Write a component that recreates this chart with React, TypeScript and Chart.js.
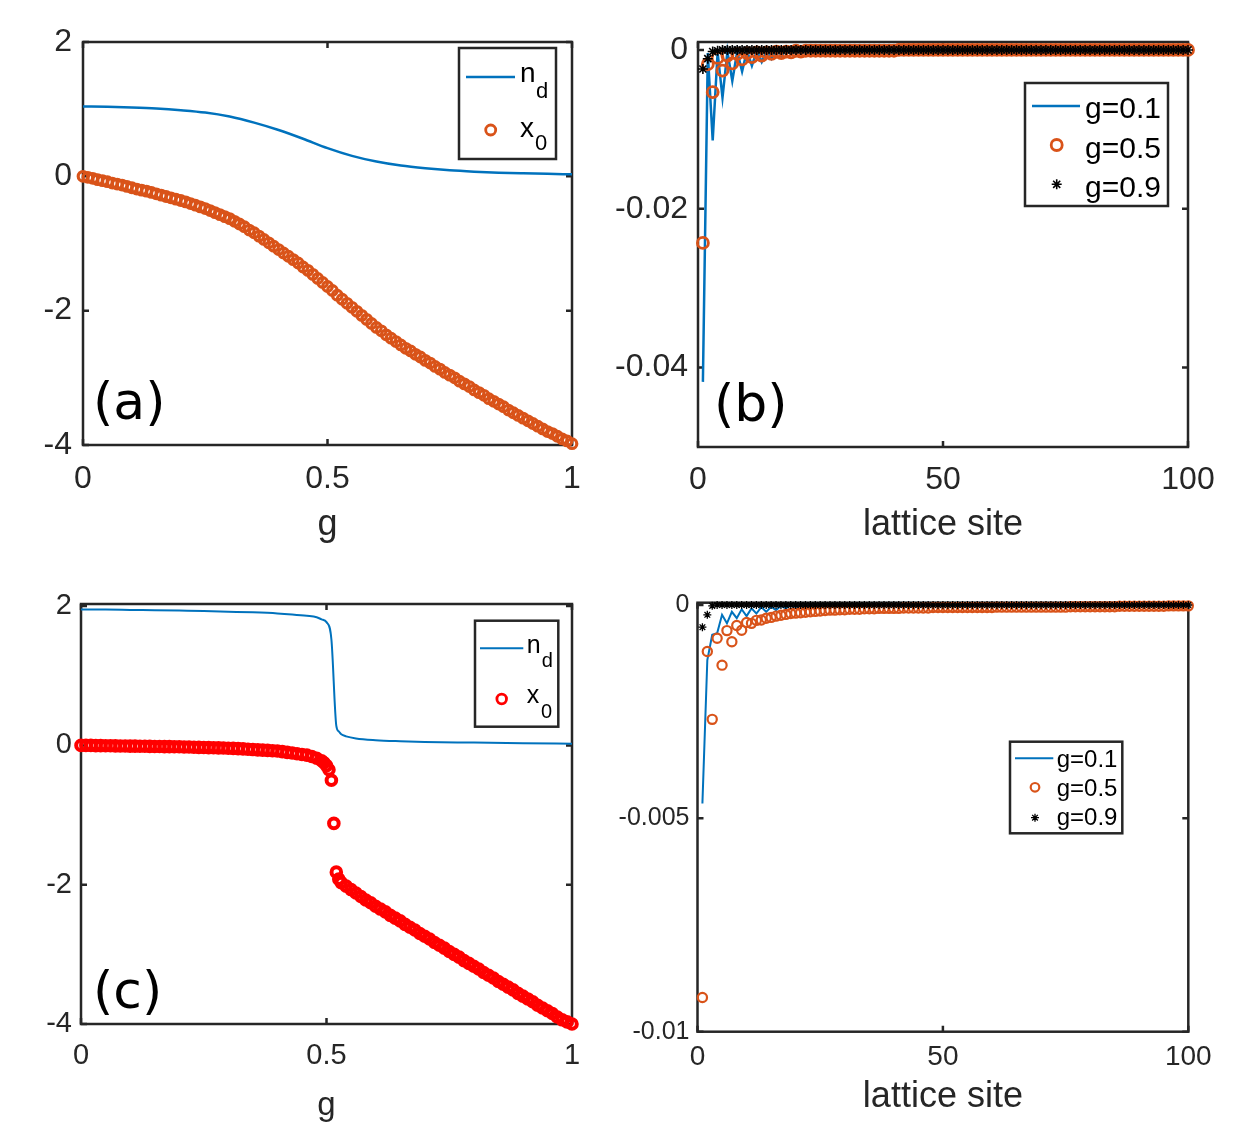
import React, { useEffect, useRef } from 'react';
import { Chart, registerables } from 'chart.js';

Chart.register(...registerables);

const FONT = "'Liberation Sans', Arial, Helvetica, sans-serif";
const LABEL_FONT = "'DejaVu Sans', 'Noto Sans', sans-serif";
const AXIS_COLOR = '#262626';
const BLUE = '#0072BD';
const ORANGE = '#D95319';
const RED = '#FF0000';
const BLACK = '#000000';

// ---------------- data: panel (a) ----------------
const gGridA = Array.from({ length: 101 }, (_, i) => i / 100);
const ndA_g = [0, 0.05, 0.1, 0.15, 0.2, 0.25, 0.3, 0.35, 0.4, 0.45, 0.5, 0.55, 0.6, 0.65, 0.7, 0.75, 0.8, 0.85, 0.9, 0.95, 1.0];
const ndA = [1.04, 1.035, 1.025, 1.01, 0.985, 0.95, 0.89, 0.8, 0.69, 0.56, 0.42, 0.305, 0.22, 0.16, 0.12, 0.09, 0.07, 0.055, 0.045, 0.037, 0.03];
const x0A = [
  0.0, -0.015, -0.03, -0.05, -0.065, -0.08, -0.1, -0.115, -0.13, -0.15,
  -0.17, -0.19, -0.205, -0.22, -0.24, -0.26, -0.28, -0.3, -0.32, -0.34,
  -0.36, -0.38, -0.405, -0.43, -0.455, -0.48, -0.51, -0.54, -0.57, -0.6,
  -0.63, -0.67, -0.71, -0.75, -0.8, -0.84, -0.89, -0.94, -0.99, -1.04,
  -1.09, -1.14, -1.19, -1.24, -1.29, -1.35, -1.4, -1.46, -1.52, -1.58,
  -1.64, -1.7, -1.77, -1.83, -1.89, -1.95, -2.01, -2.07, -2.13, -2.19,
  -2.25, -2.3, -2.36, -2.41, -2.46, -2.51, -2.56, -2.6, -2.65, -2.69,
  -2.74, -2.78, -2.83, -2.87, -2.92, -2.96, -3.0, -3.05, -3.09, -3.13,
  -3.18, -3.22, -3.26, -3.31, -3.35, -3.39, -3.43, -3.48, -3.52, -3.56,
  -3.6, -3.64, -3.68, -3.72, -3.76, -3.8, -3.83, -3.87, -3.91, -3.94,
  -3.98,
];

// ---------------- data: panel (c) ----------------
const ndC_g = [0, 0.05, 0.1, 0.15, 0.2, 0.25, 0.3, 0.35, 0.4, 0.43, 0.46, 0.48, 0.49, 0.5, 0.51, 0.52, 0.525, 0.53, 0.54, 0.56, 0.6, 0.65, 0.7, 0.8, 0.9, 1.0];
const ndC = [1.95, 1.95, 1.945, 1.94, 1.935, 1.93, 1.92, 1.91, 1.895, 1.88, 1.86, 1.84, 1.81, 1.77, 1.52, 0.28, 0.2, 0.16, 0.13, 0.1, 0.075, 0.06, 0.05, 0.04, 0.03, 0.025];
const x0C_g = [
  0.0, 0.01, 0.02, 0.03, 0.04, 0.05, 0.06, 0.07, 0.08, 0.09,
  0.1, 0.11, 0.12, 0.13, 0.14, 0.15, 0.16, 0.17, 0.18, 0.19,
  0.2, 0.21, 0.22, 0.23, 0.24, 0.25, 0.26, 0.27, 0.28, 0.29,
  0.3, 0.31, 0.32, 0.33, 0.34, 0.35, 0.36, 0.37, 0.38, 0.39,
  0.4, 0.41, 0.42, 0.43, 0.44, 0.45, 0.46, 0.47, 0.48, 0.49,
  0.495, 0.5, 0.505, 0.51, 0.515, 0.52, 0.525,
  0.53, 0.54, 0.55, 0.56, 0.57, 0.58, 0.59, 0.6, 0.61, 0.62,
  0.63, 0.64, 0.65, 0.66, 0.67, 0.68, 0.69, 0.7, 0.71, 0.72,
  0.73, 0.74, 0.75, 0.76, 0.77, 0.78, 0.79, 0.8, 0.81, 0.82,
  0.83, 0.84, 0.85, 0.86, 0.87, 0.88, 0.89, 0.9, 0.91, 0.92,
  0.93, 0.94, 0.95, 0.96, 0.97, 0.98, 0.99, 1.0,
];
const x0C = [
  0.0, 0.0, 0.0, -0.003, -0.004, -0.005, -0.006, -0.007, -0.008, -0.009,
  -0.01, -0.011, -0.012, -0.013, -0.014, -0.015, -0.016, -0.017, -0.018, -0.019,
  -0.02, -0.022, -0.024, -0.026, -0.028, -0.03, -0.032, -0.034, -0.036, -0.038,
  -0.04, -0.043, -0.046, -0.05, -0.055, -0.06, -0.064, -0.068, -0.072, -0.076,
  -0.08, -0.09, -0.1, -0.11, -0.12, -0.13, -0.14, -0.16, -0.185, -0.22,
  -0.25, -0.29, -0.35, -0.5, -1.12, -1.82, -1.92,
  -1.97, -2.02, -2.07, -2.12, -2.17, -2.22, -2.26, -2.31, -2.35, -2.39,
  -2.44, -2.48, -2.52, -2.57, -2.61, -2.65, -2.7, -2.74, -2.78, -2.83,
  -2.87, -2.91, -2.96, -3.0, -3.04, -3.09, -3.13, -3.17, -3.21, -3.26,
  -3.3, -3.34, -3.39, -3.43, -3.47, -3.51, -3.56, -3.6, -3.64, -3.68,
  -3.73, -3.77, -3.81, -3.85, -3.9, -3.94, -3.97, -4.0,
];

// ---------------- data: panels (b) and (d), lattice sites 1..100 ----------------
const sites = Array.from({ length: 100 }, (_, i) => i + 1);
const g01B = [
  -0.0418, -0.0004, -0.0114, -0.0003, -0.006, -0.0002, -0.0039, -0.0002, -0.0027, -0.0001,
  -0.002, -0.0001, -0.0015, -0.0001, -0.0011, 0, -0.0008, 0, -0.0006, 0,
  -0.0004, 0, -0.0003, 0, -0.0002, 0, -0.0001, 0, -0.0001, 0,
  0, 0, 0, 0, 0, 0, 0, 0, 0, 0,
  0, 0, 0, 0, 0, 0, 0, 0, 0, 0,
  0, 0, 0, 0, 0, 0, 0, 0, 0, 0,
  0, 0, 0, 0, 0, 0, 0, 0, 0, 0,
  0, 0, 0, 0, 0, 0, 0, 0, 0, 0,
  0, 0, 0, 0, 0, 0, 0, 0, 0, 0,
  0, 0, 0, 0, 0, 0, 0, 0, 0, 0,
];
const g05B = [
  -0.0243, -0.0018, -0.0053, -0.001, -0.0026, -0.0007, -0.0017, -0.0005, -0.0012, -0.0004,
  -0.0009, -0.0003, -0.0007, -0.0003, -0.0005, -0.0002, -0.0004, -0.0002, -0.0003, -0.0001,
  -0.0002, -0.0001, -0.0001, -0.0001, -0.0001, -0.0001, -0.0001, -0.0001, -0.0001, -0.0001,
  -0.0001, -0.0001, -0.0001, -0.0001, -0.0001, -0.0001, -0.0001, -0.0001, -0.0001, -0.0001,
  0, 0, 0, 0, 0, 0, 0, 0, 0, 0,
  0, 0, 0, 0, 0, 0, 0, 0, 0, 0,
  0, 0, 0, 0, 0, 0, 0, 0, 0, 0,
  0, 0, 0, 0, 0, 0, 0, 0, 0, 0,
  0, 0, 0, 0, 0, 0, 0, 0, 0, 0,
  0, 0, 0, 0, 0, 0, 0, 0, 0, 0,
];
const g09B = [
  -0.0024, -0.0011, -0.0002, -0.0001, 0, 0, 0, 0, 0, 0,
  0, 0, 0, 0, 0, 0, 0, 0, 0, 0,
  0, 0, 0, 0, 0, 0, 0, 0, 0, 0,
  0, 0, 0, 0, 0, 0, 0, 0, 0, 0,
  0, 0, 0, 0, 0, 0, 0, 0, 0, 0,
  0, 0, 0, 0, 0, 0, 0, 0, 0, 0,
  0, 0, 0, 0, 0, 0, 0, 0, 0, 0,
  0, 0, 0, 0, 0, 0, 0, 0, 0, 0,
  0, 0, 0, 0, 0, 0, 0, 0, 0, 0,
  0, 0, 0, 0, 0, 0, 0, 0, 0, 0,
];
const g01D = [
  -0.00465, -0.00129, -0.0007, -0.00066, -0.00023, -0.00043, -0.00016, -0.00031, -0.0001, -0.00026,
  -0.00008, -0.0002, -0.00005, -0.00016, -0.00004, -0.00012, -0.00002, -0.00008, -0.00001, -0.00005,
  0, -0.00003, 0, -0.00002, 0, -0.00001, 0, 0, 0, 0,
  0, 0, 0, 0, 0, 0, 0, 0, 0, 0,
  0, 0, 0, 0, 0, 0, 0, 0, 0, 0,
  0, 0, 0, 0, 0, 0, 0, 0, 0, 0,
  0, 0, 0, 0, 0, 0, 0, 0, 0, 0,
  0, 0, 0, 0, 0, 0, 0, 0, 0, 0,
  0, 0, 0, 0, 0, 0, 0, 0, 0, 0,
  0, 0, 0, 0, 0, 0, 0, 0, 0, 0,
];
const g05D = [
  -0.0092, -0.00109, -0.00268, -0.00078, -0.00141, -0.0006, -0.00086, -0.00048, -0.00059, -0.00041,
  -0.00043, -0.00036, -0.00035, -0.00031, -0.00029, -0.00026, -0.00024, -0.00022, -0.0002, -0.00019,
  -0.00018, -0.00017, -0.00016, -0.00015, -0.00014, -0.00013, -0.00012, -0.00012, -0.00011, -0.00011,
  -0.0001, -0.0001, -0.0001, -0.00009, -0.00009, -0.00009, -0.00008, -0.00008, -0.00008, -0.00008,
  -0.00008, -0.00007, -0.00007, -0.00007, -0.00007, -0.00007, -0.00007, -0.00006, -0.00006, -0.00006,
  -0.00006, -0.00006, -0.00006, -0.00006, -0.00006, -0.00006, -0.00006, -0.00006, -0.00006, -0.00006,
  -0.00005, -0.00005, -0.00005, -0.00005, -0.00005, -0.00005, -0.00005, -0.00005, -0.00005, -0.00005,
  -0.00005, -0.00005, -0.00005, -0.00005, -0.00005, -0.00004, -0.00004, -0.00004, -0.00004, -0.00004,
  -0.00004, -0.00004, -0.00004, -0.00004, -0.00004, -0.00003, -0.00003, -0.00003, -0.00003, -0.00003,
  -0.00003, -0.00003, -0.00003, -0.00003, -0.00003, -0.00002, -0.00002, -0.00002, -0.00002, -0.00002,
];
const g09D = [
  -0.00052, -0.00023, -0.00002, 0, 0, 0, 0, 0, 0, 0,
  0, 0, 0, 0, 0, 0, 0, 0, 0, 0,
  0, 0, 0, 0, 0, 0, 0, 0, 0, 0,
  0, 0, 0, 0, 0, 0, 0, 0, 0, 0,
  0, 0, 0, 0, 0, 0, 0, 0, 0, 0,
  0, 0, 0, 0, 0, 0, 0, 0, 0, 0,
  0, 0, 0, 0, 0, 0, 0, 0, 0, 0,
  0, 0, 0, 0, 0, 0, 0, 0, 0, 0,
  0, 0, 0, 0, 0, 0, 0, 0, 0, 0,
  0, 0, 0, 0, 0, 0, 0, 0, 0, 0,
];

// ---------------- ticks ----------------
const gTicks = [0, 0.5, 1];
const gTickLabels = ['0', '0.5', '1'];
const siteTicks = [0, 50, 100];
const siteTickLabels = ['0', '50', '100'];
const yTicksAC = [-4, -2, 0, 2];
const yTickLabelsAC = ['-4', '-2', '0', '2'];
const yTicksB = [-0.04, -0.02, 0];
const yTickLabelsB = ['-0.04', '-0.02', '0'];
const yTicksD = [-0.01, -0.005, 0];
const yTickLabelsD = ['-0.01', '-0.005', '0'];

const pts = (xs: number[], ys: number[]) => xs.map((x, i) => ({ x, y: ys[i] }));

type Row = {
  kind: 'line' | 'circle' | 'star';
  color: string;
  lw: number;
  x1?: number; x2?: number; y?: number;
  mx?: number; my?: number; r?: number;
  text: string; tx: number; ty: number;
  sub?: string; sx?: number; sy?: number;
};

type Spec = {
  key: string;
  left: number; top: number; w: number; h: number;
  padding: { left: number; top: number; right: number; bottom: number };
  yAxisWidth: number; xAxisHeight: number;
  xMin: number; xMax: number; yMin: number; yMax: number;
  xTicks: number[]; xTickLabels: string[];
  yTicks: number[]; yTickLabels: string[];
  xTickFont: number; yTickFont: number; tickPadX: number; tickPadY: number;
  title: string; titleFont: number;
  datasets: any[];
  legend: { x: number; y: number; w: number; h: number; font: number; subFont: number; rows: Row[] };
  label?: { text: string; dx: number; dy: number; font: number };
};

function drawStar(ctx: CanvasRenderingContext2D, x: number, y: number, r: number) {
  ctx.beginPath();
  for (let k = 0; k < 4; k++) {
    const a = (k * Math.PI) / 4;
    ctx.moveTo(x - Math.cos(a) * r, y - Math.sin(a) * r);
    ctx.lineTo(x + Math.cos(a) * r, y + Math.sin(a) * r);
  }
  ctx.stroke();
}

function overlayPlugin(spec: Spec) {
  return {
    id: 'overlay_' + spec.key,
    beforeDatasetsDraw(chart: any) {
      const { ctx, chartArea: a, scales } = chart;
      ctx.save();
      ctx.strokeStyle = AXIS_COLOR;
      ctx.lineWidth = 2.5;
      ctx.strokeRect(a.left, a.top, a.right - a.left, a.bottom - a.top);
      const tl = 6;
      ctx.beginPath();
      for (const t of scales.x.ticks) {
        const px = scales.x.getPixelForValue(t.value);
        ctx.moveTo(px, a.bottom);
        ctx.lineTo(px, a.bottom - tl);
        ctx.moveTo(px, a.top);
        ctx.lineTo(px, a.top + tl);
      }
      for (const t of scales.y.ticks) {
        const py = scales.y.getPixelForValue(t.value);
        ctx.moveTo(a.left, py);
        ctx.lineTo(a.left + tl, py);
        ctx.moveTo(a.right, py);
        ctx.lineTo(a.right - tl, py);
      }
      ctx.stroke();
      ctx.restore();
    },
    afterDatasetsDraw(chart: any) {
      const { ctx, chartArea: a } = chart;
      const L = spec.legend;
      ctx.save();
      ctx.fillStyle = '#ffffff';
      ctx.fillRect(L.x, L.y, L.w, L.h);
      ctx.strokeStyle = AXIS_COLOR;
      ctx.lineWidth = 2.5;
      ctx.strokeRect(L.x, L.y, L.w, L.h);
      for (const r of L.rows) {
        ctx.strokeStyle = r.color;
        ctx.lineWidth = r.lw;
        if (r.kind === 'line') {
          ctx.beginPath();
          ctx.moveTo(r.x1!, r.y!);
          ctx.lineTo(r.x2!, r.y!);
          ctx.stroke();
        } else if (r.kind === 'circle') {
          ctx.beginPath();
          ctx.arc(r.mx!, r.my!, r.r!, 0, Math.PI * 2);
          ctx.stroke();
        } else {
          drawStar(ctx, r.mx!, r.my!, r.r!);
        }
        ctx.fillStyle = BLACK;
        ctx.textBaseline = 'alphabetic';
        ctx.textAlign = 'left';
        ctx.font = `${L.font}px ${FONT}`;
        ctx.fillText(r.text, r.tx, r.ty);
        if (r.sub) {
          ctx.font = `${L.subFont}px ${FONT}`;
          ctx.fillText(r.sub, r.sx!, r.sy!);
        }
      }
      if (spec.label) {
        ctx.fillStyle = BLACK;
        ctx.font = `${spec.label.font}px ${LABEL_FONT}`;
        ctx.textBaseline = 'alphabetic';
        ctx.textAlign = 'left';
        ctx.fillText(spec.label.text, a.left + spec.label.dx, a.bottom - spec.label.dy);
      }
      ctx.restore();
    },
  };
}

function buildConfig(spec: Spec): any {
  return {
    type: 'scatter',
    data: { datasets: spec.datasets },
    options: {
      animation: false,
      responsive: false,
      maintainAspectRatio: false,
      devicePixelRatio: 1,
      events: [],
      layout: { padding: spec.padding },
      plugins: { legend: { display: false }, tooltip: { enabled: false } },
      scales: {
        x: {
          type: 'linear',
          min: spec.xMin,
          max: spec.xMax,
          afterBuildTicks: (s: any) => {
            s.ticks = spec.xTicks.map((v) => ({ value: v }));
          },
          afterFit: (s: any) => {
            s.height = spec.xAxisHeight;
          },
          grid: { display: false, drawTicks: false },
          border: { display: false },
          ticks: {
            autoSkip: false,
            maxRotation: 0,
            padding: spec.tickPadX,
            color: AXIS_COLOR,
            font: { family: FONT, size: spec.xTickFont },
            callback: (_v: any, i: number) => spec.xTickLabels[i],
          },
          title: {
            display: true,
            text: spec.title,
            color: AXIS_COLOR,
            font: { family: FONT, size: spec.titleFont },
            padding: { top: 0, bottom: 0 },
          },
        },
        y: {
          type: 'linear',
          min: spec.yMin,
          max: spec.yMax,
          afterBuildTicks: (s: any) => {
            s.ticks = spec.yTicks.map((v) => ({ value: v }));
          },
          afterFit: (s: any) => {
            s.width = spec.yAxisWidth;
          },
          grid: { display: false, drawTicks: false },
          border: { display: false },
          ticks: {
            autoSkip: false,
            padding: spec.tickPadY,
            color: AXIS_COLOR,
            font: { family: FONT, size: spec.yTickFont },
            callback: (_v: any, i: number) => spec.yTickLabels[i],
          },
        },
      },
    },
    plugins: [overlayPlugin(spec)],
  };
}

const lineDS = (data: any[], width: number, smooth: boolean) => ({
  data,
  showLine: true,
  borderColor: BLUE,
  borderWidth: width,
  pointRadius: 0,
  cubicInterpolationMode: smooth ? 'monotone' : 'default',
  tension: 0,
  clip: false,
  order: 3,
});
const circleDS = (data: any[], color: string, r: number, w: number) => ({
  data,
  showLine: false,
  pointStyle: 'circle',
  pointRadius: r,
  pointBorderWidth: w,
  borderColor: color,
  pointBorderColor: color,
  pointBackgroundColor: 'rgba(0,0,0,0)',
  backgroundColor: 'rgba(0,0,0,0)',
  clip: false,
  order: 2,
});
const starDS = (data: any[], r: number, w: number) => ({
  data,
  showLine: false,
  pointStyle: 'star',
  pointRadius: r,
  pointBorderWidth: w,
  borderColor: BLACK,
  pointBorderColor: BLACK,
  clip: false,
  order: 1,
});

const specA: Spec = {
  key: 'a', left: 0, top: 0, w: 620, h: 560,
  padding: { left: 0, top: 42, right: 48, bottom: 13 },
  yAxisWidth: 83, xAxisHeight: 102,
  xMin: 0, xMax: 1, yMin: -4, yMax: 2,
  xTicks: gTicks, xTickLabels: gTickLabels, yTicks: yTicksAC, yTickLabels: yTickLabelsAC,
  xTickFont: 32, yTickFont: 32, tickPadX: 15, tickPadY: 11,
  title: 'g', titleFont: 36,
  datasets: [lineDS(pts(ndA_g, ndA), 2.5, true), circleDS(pts(gGridA, x0A), ORANGE, 4.8, 3.2)],
  legend: {
    x: 459, y: 48, w: 97, h: 111, font: 28, subFont: 22,
    rows: [
      { kind: 'line', color: BLUE, lw: 2.5, x1: 466, x2: 515, y: 77, text: 'n', tx: 520, ty: 82, sub: 'd', sx: 536, sy: 98 },
      { kind: 'circle', color: ORANGE, lw: 2.8, mx: 490.7, my: 130, r: 5, text: 'x', tx: 520, ty: 137, sub: '0', sx: 535, sy: 150 },
    ],
  },
  label: { text: '(a)', dx: 10, dy: 26, font: 52 },
};

const specB: Spec = {
  key: 'b', left: 590, top: 0, w: 651, h: 560,
  padding: { left: 0, top: 42, right: 53, bottom: 13 },
  yAxisWidth: 108, xAxisHeight: 100,
  xMin: 0, xMax: 100, yMin: -0.05, yMax: 0.001,
  xTicks: siteTicks, xTickLabels: siteTickLabels, yTicks: yTicksB, yTickLabels: yTickLabelsB,
  xTickFont: 32, yTickFont: 32, tickPadX: 14, tickPadY: 10,
  title: 'lattice site', titleFont: 36,
  datasets: [
    lineDS(pts(sites, g01B), 2.5, false),
    circleDS(pts(sites, g05B), ORANGE, 5.5, 2.8),
    starDS(pts(sites, g09B), 5, 1.6),
  ],
  legend: {
    x: 435, y: 83, w: 143, h: 123, font: 30, subFont: 22,
    rows: [
      { kind: 'line', color: BLUE, lw: 2.5, x1: 442, x2: 490, y: 106, text: 'g=0.1', tx: 495, ty: 118 },
      { kind: 'circle', color: ORANGE, lw: 2.8, mx: 466.7, my: 145, r: 5.5, text: 'g=0.5', tx: 495, ty: 157.5 },
      { kind: 'star', color: BLACK, lw: 1.6, mx: 466.7, my: 184.3, r: 5, text: 'g=0.9', tx: 495, ty: 196.5 },
    ],
  },
  label: { text: '(b)', dx: 16, dy: 26, font: 52 },
};

const specC: Spec = {
  key: 'c', left: 0, top: 560, w: 620, h: 572,
  padding: { left: 0, top: 44, right: 48, bottom: 6 },
  yAxisWidth: 81, xAxisHeight: 102,
  xMin: 0, xMax: 1, yMin: -4, yMax: 2.03,
  xTicks: gTicks, xTickLabels: gTickLabels, yTicks: yTicksAC, yTickLabels: yTickLabelsAC,
  xTickFont: 29, yTickFont: 29, tickPadX: 15, tickPadY: 9,
  title: 'g', titleFont: 33,
  datasets: [lineDS(pts(ndC_g, ndC), 2, true), circleDS(pts(x0C_g, x0C), RED, 4.8, 4)],
  legend: {
    x: 475, y: 60.7, w: 83.3, h: 106, font: 25, subFont: 20,
    rows: [
      { kind: 'line', color: BLUE, lw: 2, x1: 480, x2: 523.3, y: 88.3, text: 'n', tx: 526.7, ty: 92.7, sub: 'd', sx: 541.7, sy: 107.3 },
      { kind: 'circle', color: RED, lw: 2.8, mx: 501.7, my: 139, r: 4.8, text: 'x', tx: 526.7, ty: 143.3, sub: '0', sx: 541, sy: 157.7 },
    ],
  },
  label: { text: '(c)', dx: 12, dy: 16, font: 52 },
};

const specD: Spec = {
  key: 'd', left: 590, top: 560, w: 651, h: 572,
  padding: { left: 0, top: 42.7, right: 52.7, bottom: 13 },
  yAxisWidth: 107.5, xAxisHeight: 87.3,
  xMin: 0, xMax: 100, yMin: -0.01, yMax: 0.000054,
  xTicks: siteTicks, xTickFont: 28, yTickFont: 25,
  xTickLabels: siteTickLabels, yTicks: yTicksD, yTickLabels: yTickLabelsD,
  tickPadX: 9, tickPadY: 8,
  title: 'lattice site', titleFont: 36,
  datasets: [
    lineDS(pts(sites, g01D), 2, false),
    circleDS(pts(sites, g05D), ORANGE, 4.6, 2.2),
    starDS(pts(sites, g09D), 4, 1.3),
  ],
  legend: {
    x: 420, y: 181.7, w: 112.3, h: 91.6, font: 24, subFont: 18,
    rows: [
      { kind: 'line', color: BLUE, lw: 2, x1: 425, x2: 463.3, y: 198.3, text: 'g=0.1', tx: 466.7, ty: 206.7 },
      { kind: 'circle', color: ORANGE, lw: 2.2, mx: 445, my: 227.3, r: 4.3, text: 'g=0.5', tx: 466.7, ty: 236 },
      { kind: 'star', color: BLACK, lw: 1.3, mx: 445, my: 257.7, r: 4, text: 'g=0.9', tx: 466.7, ty: 265 },
    ],
  },
};

function Panel({ spec }: { spec: Spec }) {
  const ref = useRef<HTMLCanvasElement>(null);
  useEffect(() => {
    if (!ref.current) return;
    const chart = new Chart(ref.current, buildConfig(spec));
    return () => chart.destroy();
  }, [spec]);
  return (
    <canvas
      ref={ref}
      width={spec.w}
      height={spec.h}
      style={{ position: 'absolute', left: spec.left, top: spec.top, width: spec.w, height: spec.h }}
    />
  );
}

export default function App() {
  return (
    <div style={{ position: 'absolute', left: 0, top: 0, width: 1241, height: 1132, background: '#ffffff', overflow: 'hidden' }}>
      <Panel spec={specA} />
      <Panel spec={specB} />
      <Panel spec={specC} />
      <Panel spec={specD} />
    </div>
  );
}
